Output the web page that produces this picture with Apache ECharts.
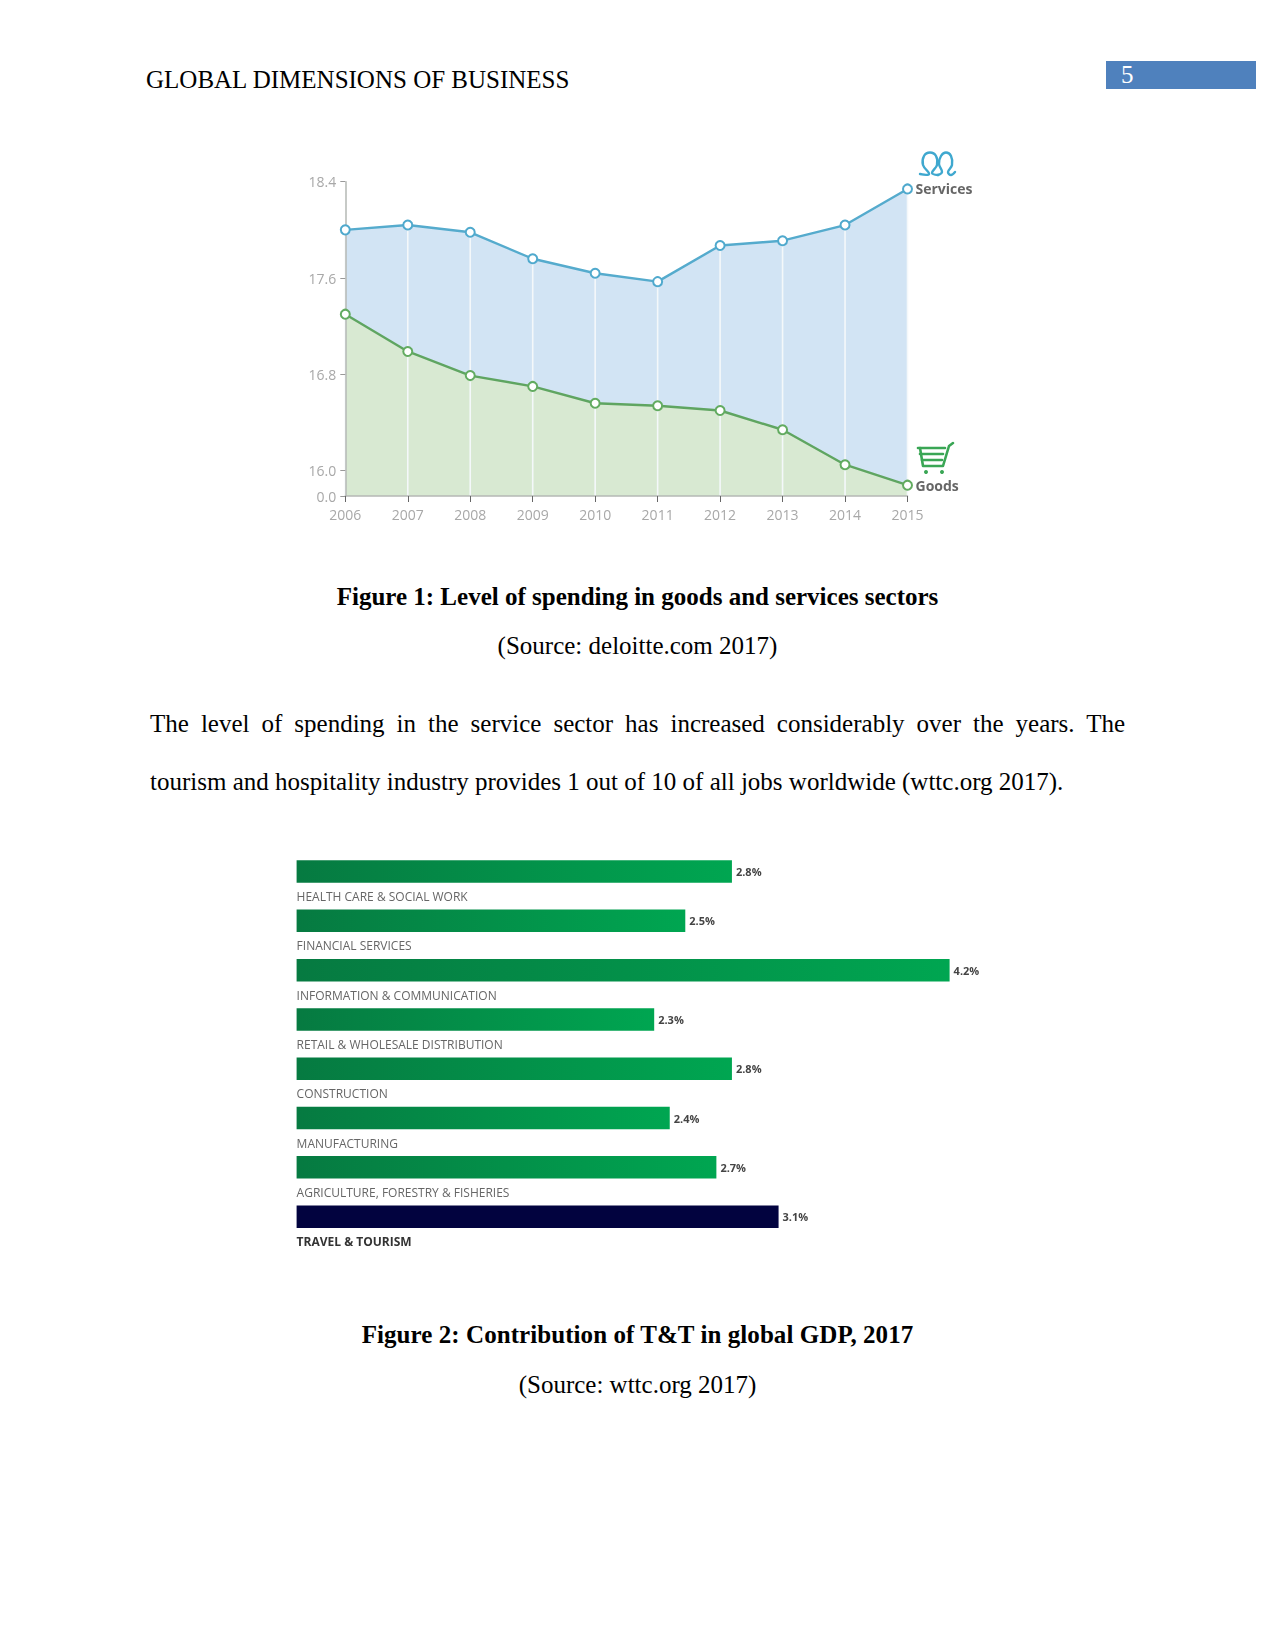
<!DOCTYPE html>
<html><head><meta charset="utf-8">
<script src="https://cdn.jsdelivr.net/npm/echarts@6/dist/echarts.min.js"></script>
<style>
html,body{margin:0;padding:0;background:#fff}
#page{position:relative;width:1275px;height:1651px;overflow:hidden}
#chart{position:absolute;left:0;top:0;width:1275px;height:1651px;filter:blur(0.45px)}
.t{position:absolute;font-family:"Liberation Serif",serif;font-size:25px;line-height:30px;color:#000;white-space:nowrap}
.c{left:0;width:1275px;text-align:center}
.j{left:150px;width:975px;white-space:normal;text-align:justify;text-align-last:justify}
#box{position:absolute;left:1106px;top:61px;width:150px;height:28px;background:#4f81bd}
</style></head><body>
<div id="page">
<div id="chart"></div>
<div class="t" style="left:146px;top:65px">GLOBAL DIMENSIONS OF BUSINESS</div>
<div id="box"></div>
<div class="t" style="left:1121px;top:60px;color:#fff">5</div>
<div class="t c" style="top:582px;font-weight:bold">Figure 1: Level of spending in goods and services sectors</div>
<div class="t c" style="top:631px">(Source: deloitte.com 2017)</div>
<div class="t j" style="top:709px">The level of spending in the service sector has increased considerably over the years. The</div>
<div class="t" style="left:150px;top:767px">tourism and hospitality industry provides 1 out of 10 of all jobs worldwide (wttc.org 2017).</div>
<div class="t c" style="top:1320px;font-weight:bold;letter-spacing:0.065px">Figure 2: Contribution of T&amp;T in global GDP, 2017</div>
<div class="t c" style="top:1370px">(Source: wttc.org 2017)</div>
</div>
<script>
const years = ['2006','2007','2008','2009','2010','2011','2012','2013','2014','2015'];
const services = [18.00,18.04,17.98,17.76,17.64,17.57,17.87,17.91,18.04,18.34];
const goods = [17.30,16.99,16.79,16.70,16.56,16.54,16.50,16.34,16.05,15.88];
const yTicks = [15.79,16.0,16.8,17.6,18.4];
const sectors = ['HEALTH CARE & SOCIAL WORK','FINANCIAL SERVICES','INFORMATION & COMMUNICATION','RETAIL & WHOLESALE DISTRIBUTION','CONSTRUCTION','MANUFACTURING','AGRICULTURE, FORESTRY & FISHERIES','TRAVEL & TOURISM'];
const contribution = [2.8,2.5,4.2,2.3,2.8,2.4,2.7,3.1];

const green = {type:'linear',x:0,y:0,x2:1,y2:0,colorStops:[{offset:0,color:'#067a41'},{offset:1,color:'#00a651'}]};
const chart = echarts.init(document.getElementById('chart'),null,{renderer:'svg',width:1275,height:1651});
const font = '"Open Sans",sans-serif';
const endLabel = {show:true,formatter:'{a}',distance:8,color:'#666',fontFamily:font,fontWeight:'bold',fontSize:14};
const lineCommon = {type:'line',xAxisIndex:0,yAxisIndex:0,symbol:'circle',symbolSize:9,showAllSymbol:true,silent:true,animation:false};
const stroke = (points,color,w,smooth)=>({type:'polyline',silent:true,shape:{points,smooth:smooth||0},style:{fill:null,stroke:color,lineWidth:w,lineJoin:'round',lineCap:'round'}});
const lastIdx = sectors.length-1;
chart.setOption({
  animation:false,
  grid:[
    {left:345.3,top:181.7,width:562.2,height:314.3,containLabel:false},
    {left:296.6,top:846.9,width:653,height:394.4,containLabel:false}
  ],
  xAxis:[
    {gridIndex:0,type:'category',data:years,boundaryGap:false,z:5,
     axisLine:{lineStyle:{color:'#b5b8b5',width:1.5}},
     axisTick:{show:true,alignWithLabel:true,length:6,lineStyle:{color:'#666'}},
     axisLabel:{color:'#a8a8a8',fontFamily:font,fontSize:14,margin:11,interval:0},
     splitLine:{show:false}},
    {gridIndex:1,type:'value',min:0,max:4.2,show:false}
  ],
  yAxis:[
    {gridIndex:0,type:'value',min:15.79,max:18.4,z:5,
     axisLine:{show:true,lineStyle:{color:'#b5b8b5',width:1.5}},
     axisTick:{show:true,length:5,customValues:yTicks,lineStyle:{color:'#999'}},
     axisLabel:{color:'#a8a8a8',fontFamily:font,fontSize:14,margin:9,padding:[0,0,3,0],customValues:yTicks,
       formatter:v=>v<16?'0.0':v.toFixed(1)},
     splitLine:{show:false}},
    {gridIndex:1,type:'category',inverse:true,data:sectors,
     axisLine:{show:false},axisTick:{show:false},axisLabel:{show:false},splitLine:{show:false}}
  ],
  series:[
    {...lineCommon,z:2,name:'Services area',data:services,symbol:'none',lineStyle:{width:0},areaStyle:{color:'#d2e4f4',opacity:1}},
    {...lineCommon,z:2,name:'Goods area',data:goods,symbol:'none',lineStyle:{width:0},areaStyle:{color:'#d8e9d2',opacity:1}},
    {type:'bar',z:4,name:'Drop lines',xAxisIndex:0,yAxisIndex:0,data:services,barWidth:1.6,silent:true,itemStyle:{color:'#f4f8fa'}},
    {...lineCommon,z:6,name:'Services',data:services,lineStyle:{color:'#55abcd',width:2.4},itemStyle:{color:'#fff',borderColor:'#4fa9cd',borderWidth:2},endLabel},
    {...lineCommon,z:6,name:'Goods',data:goods,lineStyle:{color:'#5fa561',width:2.4},itemStyle:{color:'#fff',borderColor:'#62ab60',borderWidth:2},endLabel},
    {type:'bar',z:3,name:'Contribution',xAxisIndex:1,yAxisIndex:1,barWidth:22.5,barGap:'-100%',silent:true,
     data:contribution.map((v,i)=>({value:v,itemStyle:{color:i===lastIdx?'#02033f':green}})),
     label:{show:true,position:'right',distance:4,formatter:p=>p.value.toFixed(1)+'%',color:'#444',fontFamily:font,fontWeight:'bold',fontSize:11}},
    {type:'bar',z:4,name:'Sector names',xAxisIndex:1,yAxisIndex:1,barWidth:22.5,barGap:'-100%',silent:true,
     data:contribution.map((v,i)=>({value:v,itemStyle:{color:'rgba(0,0,0,0)'},
       label:i===lastIdx?{fontWeight:'bold',color:'#333'}:{}})),
     label:{show:true,position:'insideLeft',distance:0,offset:[0,25],formatter:p=>p.name,color:'#666',fontFamily:font,fontSize:12}}
  ],
  graphic:[
    stroke([[920,174],[929,174],[923,165],[924,156],[930,152.5],[936,156],[937,165],[932,173],[938,175]],'#3fa8cf',2.4,0.4),
    stroke([[938,175],[942,172],[939,164],[941,156],[946,152.5],[951,156],[952,165],[948,172],[951,175],[955,172]],'#3fa8cf',2.4,0.4),
    stroke([[918,448],[945,448]],'#3aa655',2.6),
    stroke([[920,454],[943,454]],'#3aa655',2.6),
    stroke([[922,460],[942,460]],'#3aa655',2.6),
    stroke([[920,448],[923,466],[943,466],[949,446],[953,443]],'#3aa655',2.6),
    {type:'circle',silent:true,shape:{cx:926,cy:472,r:2},style:{fill:'#3aa655'}},
    {type:'circle',silent:true,shape:{cx:942,cy:472,r:2},style:{fill:'#3aa655'}}
  ]
});
</script></body></html>
